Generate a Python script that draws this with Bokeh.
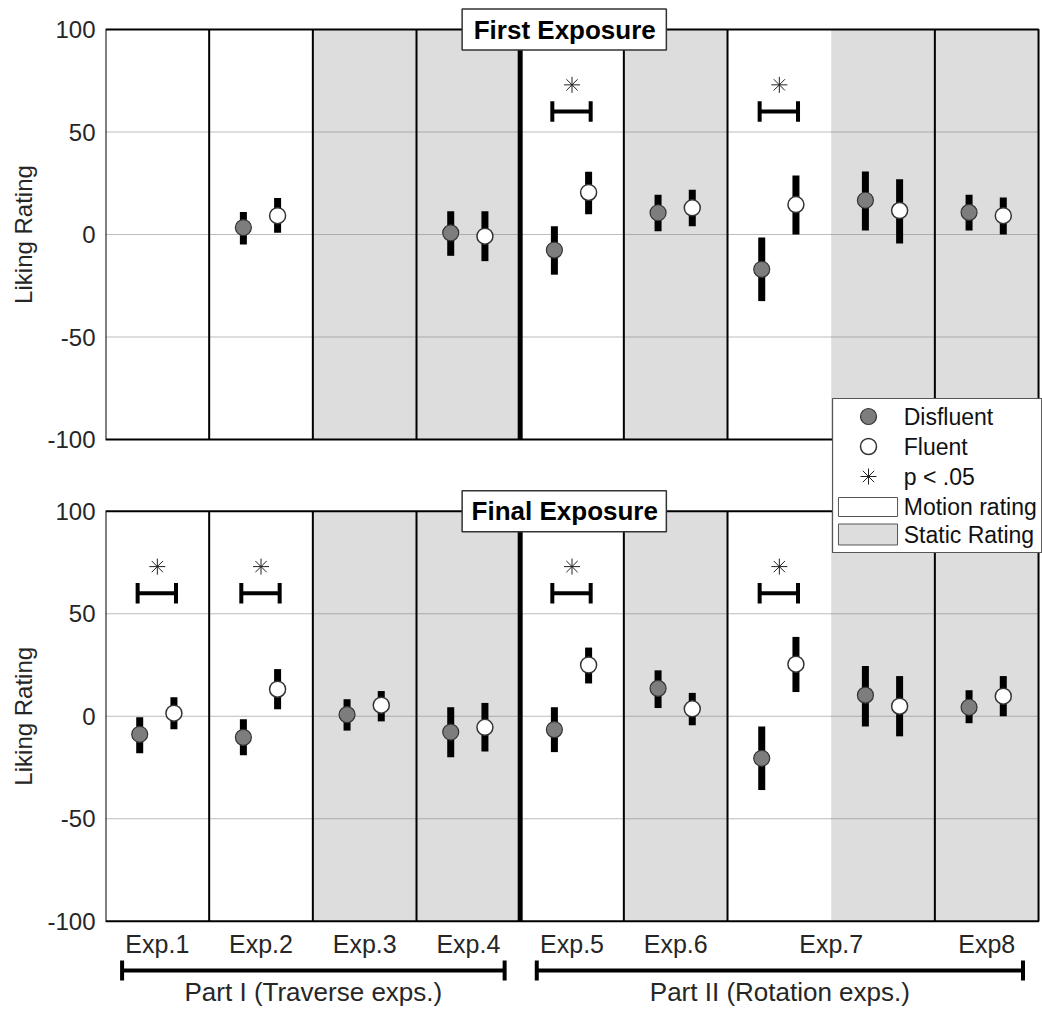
import math
from bokeh.plotting import figure
from bokeh.models import Range1d, LinearAxis, FixedTicker
from bokeh.core.properties import value
from bokeh.embed import file_html
from bokeh.resources import INLINE

nan = float("nan")

# ---------------- data ----------------
columns = ["Exp.1", "Exp.2", "Exp.3", "Exp.4", "Exp.5", "Exp.6", "Exp.7", "Exp.7", "Exp8"]
rating_type = ["Motion rating", "Motion rating", "Static Rating", "Static Rating", "Motion rating",
               "Static Rating", "Motion rating", "Static Rating", "Static Rating"]
part_names = ["Part I (Traverse exps.)", "Part II (Rotation exps.)"]
part_of_column = [0, 0, 0, 0, 1, 1, 1, 1, 1]

first_disfluent = [nan, 3.4, nan, 0.8, -7.6, 10.6, -17.0, 16.7, 10.8]
first_disfluent_hi = [nan, 11.0, nan, 11.4, 4.0, 19.4, -1.5, 30.7, 19.4]
first_disfluent_lo = [nan, -4.9, nan, -10.4, -19.6, 1.6, -32.5, 2.0, 2.0]
first_fluent = [nan, 9.2, nan, -0.8, 20.5, 13.0, 14.6, 11.7, 9.2]
first_fluent_hi = [nan, 17.8, nan, 11.4, 30.6, 21.8, 28.8, 27.0, 18.0]
first_fluent_lo = [nan, 0.8, nan, -13.0, 9.9, 4.0, 0.0, -4.4, 0.0]
first_significant = [False, False, False, False, True, False, True, False, False]

final_disfluent = [-8.8, -10.3, 0.8, -7.7, -6.5, 13.6, -20.5, 10.3, 4.4]
final_disfluent_hi = [-0.5, -1.5, 8.3, 4.4, 4.4, 22.4, -5.0, 24.5, 12.7]
final_disfluent_lo = [-18.0, -19.0, -7.0, -20.0, -17.5, 4.0, -36.0, -5.0, -3.4]
final_fluent = [1.5, 13.2, 5.4, -5.4, 25.0, 3.6, 25.4, 4.9, 9.8]
final_fluent_hi = [9.3, 23.0, 12.3, 6.5, 33.5, 11.4, 38.7, 19.6, 19.6]
final_fluent_lo = [-6.4, 3.4, -2.5, -17.2, 16.0, -4.4, 11.8, -9.8, 0.0]
final_significant = [True, True, False, False, True, False, True, False, False]

panel_titles = ["First Exposure", "Final Exposure"]
y_ticks = [-100, -50, 0, 50, 100]
grid_values = [-50, 0, 50]
legend_labels = ["Disfluent", "Fluent", "p < .05", "Motion rating", "Static Rating"]

# ---------------- layout / style ----------------
W, H = 1042, 1009
FRAME_LEFT = 105
COL_PX = 103.67
S = 2.05             # px per rating unit
TOP_PX = 29          # canvas y of top panel's +100
OFFSET = 235         # unified-unit offset of top panel
U_MAX = 100 + OFFSET + TOP_PX / S
U_MIN = U_MAX - H / S
X_END = (W - FRAME_LEFT) / COL_PX
FONT = "Liberation Sans"
GRAY = "#dddddd"
DIS_FILL = "#7d7d7d"
D_OFF, F_OFF = 0.33, 0.66
BAR_W = 7 / COL_PX


def page_u(py):
    return U_MAX - py / S


p = figure(width=W, height=H, x_range=Range1d(0, X_END), y_range=Range1d(U_MIN, U_MAX),
           output_backend="svg", toolbar_location=None, x_axis_location=None,
           min_border_left=FRAME_LEFT, min_border_right=0, min_border_top=0, min_border_bottom=0)
p.outline_line_color = None
p.background_fill_color = "white"
p.border_fill_color = "white"
p.grid.visible = False
p.extra_y_ranges = {"first": Range1d(U_MIN - OFFSET, U_MAX - OFFSET)}

# numeric y axis (both panels)
ax = p.yaxis[0]
tick_u = [v + OFFSET for v in y_ticks] + list(y_ticks)
ax.ticker = FixedTicker(ticks=tick_u)
ax.major_label_overrides = {**{v + OFFSET: str(v) for v in y_ticks}, **{v: str(v) for v in y_ticks}}
ax.axis_line_color = None
ax.major_tick_line_color = None
ax.minor_tick_line_color = None
ax.major_tick_out = 0
ax.major_tick_in = 0
ax.minor_tick_out = 0
ax.minor_tick_in = 0
ax.major_label_standoff = 10
ax.major_label_text_font = FONT
ax.major_label_text_font_size = "24px"
ax.major_label_text_color = "#262626"

# "Liking Rating" label axis
ax2 = LinearAxis(ticker=FixedTicker(ticks=[OFFSET, 0]),
                 major_label_overrides={OFFSET: "Liking Rating", 0: "Liking Rating"})
ax2.major_label_orientation = "vertical"
ax2.axis_line_color = None
ax2.major_tick_line_color = None
ax2.minor_tick_line_color = None
ax2.major_tick_out = 0
ax2.major_tick_in = 0
ax2.minor_tick_out = 0
ax2.minor_tick_in = 0
ax2.major_label_standoff = 8
ax2.major_label_text_font = FONT
ax2.major_label_text_font_size = "24px"
ax2.major_label_text_color = "#262626"
p.add_layout(ax2, "left")

n = len(columns)
thin = [i for i in range(1, n) if columns[i] != columns[i - 1] and part_of_column[i] == part_of_column[i - 1]]
thick = [i for i in range(1, n) if part_of_column[i] != part_of_column[i - 1]]

panels = [
    dict(title=panel_titles[0], rng="first",
         dis=first_disfluent, dhi=first_disfluent_hi, dlo=first_disfluent_lo,
         flu=first_fluent, fhi=first_fluent_hi, flo=first_fluent_lo, sig=first_significant),
    dict(title=panel_titles[1], rng="default",
         dis=final_disfluent, dhi=final_disfluent_hi, dlo=final_disfluent_lo,
         flu=final_fluent, fhi=final_fluent_hi, flo=final_fluent_lo, sig=final_significant),
]


def valid(idx_list, *arrs):
    return [i for i in idx_list if not any(math.isnan(a[i]) for a in arrs)]


for pan in panels:
    r = pan["rng"]
    # shading per column
    p.quad(left=list(range(n)), right=[i + 1 for i in range(n)], bottom=[-100] * n, top=[100] * n,
           fill_color=[("white" if t == "Motion rating" else GRAY) for t in rating_type],
           line_color=None, y_range_name=r)
    # dotted grid
    p.segment(x0=[0] * len(grid_values), x1=[n] * len(grid_values), y0=grid_values, y1=grid_values,
              line_color="#7a7a7a", line_width=1, line_dash="1 1", y_range_name=r)
    # separators
    p.segment(x0=thin, x1=thin, y0=[-100] * len(thin), y1=[100] * len(thin),
              line_color="black", line_width=2, y_range_name=r)
    p.segment(x0=thick, x1=thick, y0=[-100] * len(thick), y1=[100] * len(thick),
              line_color="black", line_width=5, y_range_name=r)
    # border
    p.quad(left=[0], right=[n], bottom=[-100], top=[100], fill_color=None,
           line_color="black", line_width=2, y_range_name=r)

    idx = range(n)
    di = valid(idx, pan["dis"], pan["dhi"], pan["dlo"])
    fi = valid(idx, pan["flu"], pan["fhi"], pan["flo"])
    p.vbar(x=[i + D_OFF for i in di], bottom=[pan["dlo"][i] for i in di], top=[pan["dhi"][i] for i in di],
           width=BAR_W, fill_color="black", line_color=None, y_range_name=r)
    p.vbar(x=[i + F_OFF for i in fi], bottom=[pan["flo"][i] for i in fi], top=[pan["fhi"][i] for i in fi],
           width=BAR_W, fill_color="black", line_color=None, y_range_name=r)
    p.scatter(x=[i + D_OFF for i in di], y=[pan["dis"][i] for i in di], size=16, marker="circle",
              fill_color=DIS_FILL, line_color="#333333", line_width=1.2, y_range_name=r)
    p.scatter(x=[i + F_OFF for i in fi], y=[pan["flu"][i] for i in fi], size=16, marker="circle",
              fill_color="white", line_color="#333333", line_width=1.5, y_range_name=r)

    # significance brackets
    si = [i for i in idx if pan["sig"][i]]
    bl = [i + 0.31 for i in si]
    br = [i + 0.68 for i in si]
    p.segment(x0=bl, x1=br, y0=[60] * len(si), y1=[60] * len(si), line_color="black", line_width=4, y_range_name=r)
    p.segment(x0=bl + br, x1=bl + br, y0=[55] * (2 * len(si)), y1=[65] * (2 * len(si)),
              line_color="black", line_width=4, y_range_name=r)
    p.scatter(x=[i + 0.5 for i in si], y=[73] * len(si), marker="asterisk", size=16,
              line_color="#222222", line_width=1, y_range_name=r)

    # title box
    p.quad(left=[3.44], right=[5.41], bottom=[90], top=[110], fill_color="white",
           line_color="#333333", line_width=1.5, y_range_name=r)
    p.text(x=[4.43], y=[100], text=[pan["title"]], text_font=value(FONT), text_font_size="26px",
           text_font_style="bold", text_align="center", text_baseline="middle", text_color="black",
           y_range_name=r)

# experiment labels
exp_names = []
for c in columns:
    if c not in exp_names:
        exp_names.append(c)
exp_x = []
for e in exp_names:
    cols = [i for i, c in enumerate(columns) if c == e]
    exp_x.append((min(cols) + max(cols) + 1) / 2)
p.text(x=exp_x, y=[page_u(943)] * len(exp_names), text=exp_names, text_font=value(FONT),
       text_font_size="25px", text_align="center", text_baseline="middle", text_color="#262626")

# part brackets
ps, pe = [], []
for k in range(len(part_names)):
    cols = [i for i, q in enumerate(part_of_column) if q == k]
    ps.append(min(cols) + 0.16)
    pe.append(max(cols) + 1 - 0.15)
yb = page_u(970)
p.segment(x0=ps, x1=pe, y0=[yb] * 2, y1=[yb] * 2, line_color="black", line_width=4)
p.segment(x0=ps + pe, x1=ps + pe, y0=[yb - 10 / S] * 4, y1=[yb + 10 / S] * 4, line_color="black", line_width=4)
p.text(x=[(a + b) / 2 for a, b in zip(ps, pe)], y=[page_u(991)] * 2, text=part_names,
       text_font=value(FONT), text_font_size="26px", text_align="center", text_baseline="middle",
       text_color="#262626")

# legend (drawn)
lx0, lx1 = 7.013, 9.03
p.quad(left=[lx0], right=[lx1], bottom=[page_u(552)], top=[page_u(398)], fill_color="white",
       line_color="#555555", line_width=1.2)
ly = [page_u(v) for v in (416, 446, 476, 506.5, 534)]
mx = 7.36
p.scatter(x=[mx], y=[ly[0]], size=16, fill_color=DIS_FILL, line_color="#333333", line_width=1.2)
p.scatter(x=[mx], y=[ly[1]], size=16, fill_color="white", line_color="#333333", line_width=1.5)
p.scatter(x=[mx], y=[ly[2]], marker="asterisk", size=16, line_color="#222222", line_width=1)
p.quad(left=[7.07, 7.07], right=[7.64, 7.64], bottom=[ly[3] - 9.5 / S, ly[4] - 10.5 / S],
       top=[ly[3] + 9.5 / S, ly[4] + 10.5 / S], fill_color=["white", GRAY], line_color="#555555", line_width=1)
p.text(x=[7.70] * 5, y=ly, text=legend_labels, text_font=value(FONT), text_font_size="23px",
       text_align="left", text_baseline="middle", text_color="#111111")

open("out.html", "w").write(file_html(p, INLINE))
